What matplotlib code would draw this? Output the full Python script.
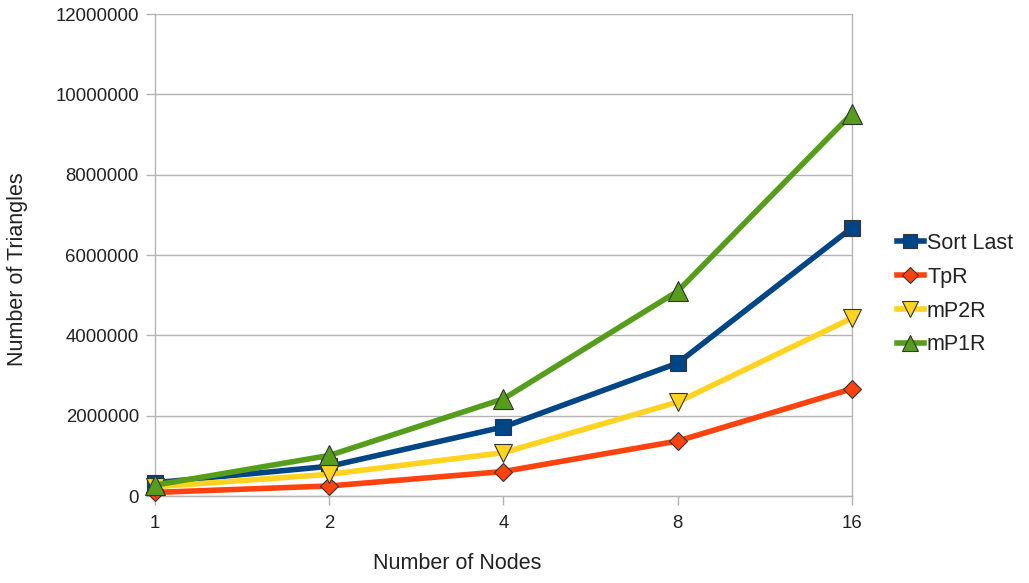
import matplotlib
matplotlib.use('Agg')
from matplotlib import pyplot as plt

# 节点数 / 各算法的三角形数量
nodes = ['1', '2', '4', '8', '16']
sort_last = [330000, 740000, 1720000, 3310000, 6680000]
tpr = [90000, 250000, 610000, 1370000, 2670000]
mp2r = [230000, 540000, 1080000, 2340000, 4430000]
mp1r = [270000, 1010000, 2420000, 5100000, 9520000]

plt.rcParams['font.family'] = ['Liberation Sans', 'DejaVu Sans']

fig = plt.figure(figsize=(10.29, 5.83), dpi=100)
ax = fig.add_axes([0.1506, 0.1492, 0.6774, 0.8267])

x = range(len(nodes))
series = [
    ('Sort Last', sort_last, '#004586', 's', 12),
    ('TpR', tpr, '#ff420e', 'D', 9),
    ('mP2R', mp2r, '#ffd320', 'v', 13),
    ('mP1R', mp1r, '#579d1c', '^', 14),
]
for name, vals, col, mk, ms in series:
    ax.plot(x, vals, color=col, lw=4, marker=mk, markersize=ms,
            markerfacecolor=col, markeredgecolor='#333333', markeredgewidth=0.8,
            label=name, clip_on=False, zorder=3)

ax.set_xlim(0, 4)
ax.set_ylim(0, 12000000)
ax.set_xticks(list(x))
ax.set_xticklabels(nodes)
ax.set_yticks(range(0, 12000001, 2000000))
ax.set_yticklabels([str(v) for v in range(0, 12000001, 2000000)])

ax.yaxis.grid(True, color='#b3b3b3', lw=1)
ax.set_axisbelow(True)
for s in ax.spines.values():
    s.set_color('#b3b3b3')
    s.set_linewidth(1)
ax.spines['top'].set_visible(False)
ax.tick_params(axis='both', colors='#b3b3b3', labelcolor='#222222',
               labelsize=13.4, length=6.5, width=1)
ax.tick_params(axis='y', pad=5)
ax.tick_params(axis='x', pad=7)

# 坐标轴标题
ax.set_xlabel('Number of Nodes', fontsize=15.5, color='#222222', va='center')
ax.xaxis.set_label_coords(0.434, -0.139)
ax.set_ylabel('Number of Triangles', fontsize=15.5, color='#222222', va='center')
ax.yaxis.set_label_coords(-0.1966, 0.47)

leg = ax.legend(loc='center left', bbox_to_anchor=(1.052, 0.419), frameon=False,
                fontsize=15.5, handlelength=1.25, handletextpad=0.15,
                labelspacing=0.6, borderaxespad=0, markerscale=0.85)
for t in leg.get_texts():
    t.set_color('#222222')

fig.savefig('out.png', dpi=100)
